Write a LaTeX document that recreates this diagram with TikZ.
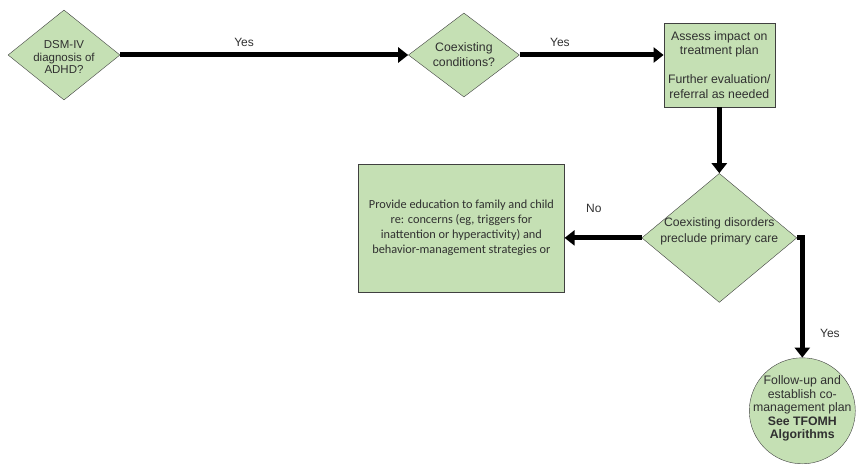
\documentclass[tikz,border=0pt]{standalone}
\usepackage{fontspec}
\setmainfont{Liberation Sans}
\newfontfamily\calibrifont{Carlito}
\usetikzlibrary{shapes.geometric,arrows.meta,positioning}
\definecolor{boxgreen}{HTML}{C5E0B4}
\definecolor{edgegray}{HTML}{404040}
\definecolor{textgray}{HTML}{303030}
\tikzstyle{decision} = [diamond, draw=edgegray, fill=boxgreen, inner sep=0pt]
\tikzstyle{block} = [rectangle, draw=edgegray, fill=boxgreen, inner sep=0pt, text=textgray, align=center, font=\fontsize{12.3}{14.5}\selectfont]
\tikzstyle{terminal} = [circle, draw=edgegray, fill=boxgreen, inner sep=0pt, minimum size=106pt]
\tikzstyle{inside} = [text=textgray, align=center, font=\fontsize{12.3}{14.5}\selectfont]
\tikzstyle{answer} = [text=textgray, font=\fontsize{12}{14}\selectfont]
\tikzstyle{line} = [draw, line width=5pt, -{Triangle[length=10pt,width=15pt]}]

\begin{document}
\begin{tikzpicture}[x=1pt, y=-1pt, node distance = 2cm, auto]
    \path [use as bounding box] (0,0) rectangle (856,465);
    \clip (0,0) rectangle (856,465);
    % Place nodes
    \node [decision, minimum width=112pt, minimum height=90pt,
        label={[inside, font=\fontsize{11.5}{12.5}\selectfont, yshift=-2pt]center:DSM-IV\\diagnosis of\\ADHD?}] (dsm) at (64,55) {};
    \node [decision, right=288pt of dsm, minimum width=111pt, minimum height=84pt,
        label={[inside, font=\fontsize{12.3}{15}\selectfont]center:Coexisting\\conditions?}] (coex) {};
    \node [block, right=144pt of coex, yshift=-10pt, minimum width=111pt, minimum height=84pt] (assess) {Assess impact on\\treatment plan\\[14.5pt]Further evaluation/\\referral as needed};
    \node [decision, below=66pt of assess, minimum width=155pt, minimum height=129pt,
        label={[inside, font=\fontsize{12.2}{16}\selectfont, yshift=7pt]center:Coexisting disorders\\preclude primary care}] (preclude) {};
    \node [block, left=77pt of preclude, yshift=10pt, minimum width=206pt, minimum height=128pt, font=\calibrifont\fontsize{12.3}{15}\selectfont] (educate) {Provide education to family and child\\re: concerns (eg, triggers for\\inattention or hyperactivity) and\\behavior-management strategies or};
    \node [terminal, below=55pt of preclude, xshift=83pt,
        label={[inside, font=\fontsize{12.3}{13.5}\selectfont, yshift=2pt]center:Follow-up and\\establish co-\\management plan\\\textbf{See TFOMH}\\\textbf{Algorithms}}] (followup) {};

    % Draw edges
    \path [line] (dsm) -- node [answer, above=3pt, pos=0.43] {Yes} (coex);
    \path [line] (coex) -- node [answer, above=3pt, pos=0.28] {Yes} (coex -| assess.west);
    \path [line] (assess) -- (preclude);
    \path [line] (preclude) -- node [answer, above=19pt, pos=0.62] {No} (preclude.west -| educate.east);
    \path [line] (preclude.east) -| node [answer, right=12pt, pos=0.9] {Yes} (followup);
\end{tikzpicture}
\end{document}
